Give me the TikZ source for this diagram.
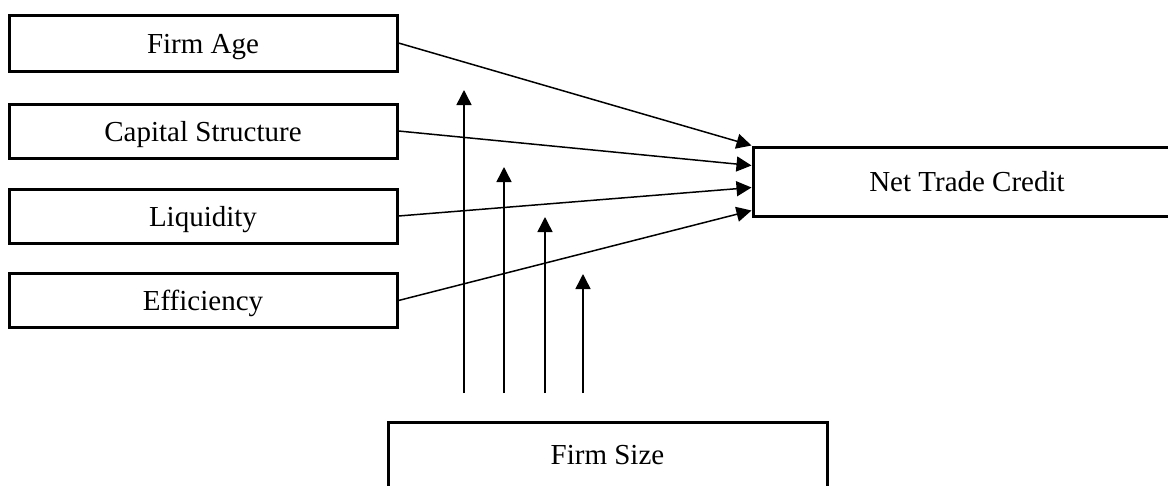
\documentclass[tikz,border=0pt]{standalone}
\usepackage{fontspec}
\setmainfont{Liberation Serif}
\usetikzlibrary{arrows.meta}
\begin{document}
\begin{tikzpicture}[x=1pt,y=-1pt,
  varbox/.style={draw=black,line width=3pt,rectangle,inner sep=0pt,
    font=\fontsize{29}{33}\selectfont},
  leftbox/.style={varbox,minimum width=388pt,minimum height=54pt,
    text height=25pt,text depth=5pt},
  link/.style={line width=1.5pt,-{Triangle[length=15pt,width=15pt]}}]
  \useasboundingbox (0,0) rectangle (1168,485);
  \clip (0,0) rectangle (1168,485);
  \fill[white] (0,0) rectangle (1168,485);

  % independent variables
  \node[leftbox,minimum height=56pt] (age) at (203,43) {Firm Age};
  \node[leftbox] (cap) at (203,131) {Capital Structure};
  \node[leftbox] (liq) at (203,216) {Liquidity};
  \node[leftbox] (eff) at (203,300.5) {Efficiency};

  % dependent variable
  \node[varbox,minimum width=428pt,minimum height=69pt] (ntc) at (967,181.5) {Net Trade Credit};

  % moderator
  \node[varbox,minimum width=439pt,minimum height=66pt] (size) at (607.5,455) {Firm Size};

  % direct effects
  \draw[link] (age.east) -- (ntc.north west);
  \draw[link] (cap.east) -- ([yshift=-20pt]ntc.north west);
  \draw[link] (liq.east) -- ([yshift=-42pt]ntc.north west);
  \draw[link] (eff.east) -- ([yshift=-65pt]ntc.north west);

  % moderating effects
  \coordinate (m1s) at (464,393); \coordinate (m1e) at (464,90);
  \coordinate (m2s) at (504,393); \coordinate (m2e) at (504,167);
  \coordinate (m3s) at (545,393); \coordinate (m3e) at (545,217);
  \coordinate (m4s) at (583,393); \coordinate (m4e) at (583,274);
  \draw[link] (m1s) -- (m1e);
  \draw[link] (m2s) -- (m2e);
  \draw[link] (m3s) -- (m3e);
  \draw[link] (m4s) -- (m4e);
\end{tikzpicture}
\end{document}
